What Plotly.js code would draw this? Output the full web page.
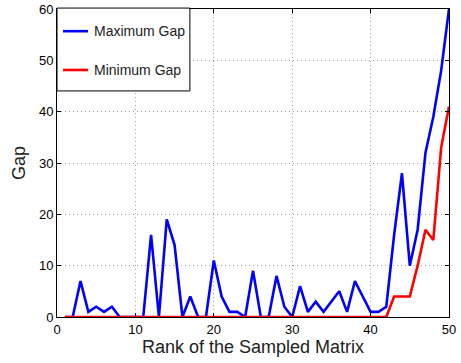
<!DOCTYPE html>
<html>
<head>
<meta charset="utf-8">
<script src="https://cdn.plot.ly/plotly-3.0.1.min.js"></script>
<style>html,body{margin:0;padding:0;background:#fff;}#chart{width:461px;height:363px;}</style>
</head>
<body>
<div id="chart"></div>
<script>
const rank = [1,2,3,4,5,6,7,8,9,10,11,12,13,14,15,16,17,18,19,20,21,22,23,24,25,26,27,28,29,30,31,32,33,34,35,36,37,38,39,40,41,42,43,44,45,46,47,48,49,50];
const maxGap = [0,0,7,1,2,1,2,0,0,0,0,16,0,19,14,0,4,0,0,11,4,1,1,0,9,0,0,8,2,0,6,1,3,1,3,5,1,7,4,1,1,2,16,28,10,17,32,39,48,60];
const minGap = [0,0,0,0,0,0,0,0,0,0,0,0,0,0,0,0,0,0,0,0,0,0,0,0,0,0,0,0,0,0,0,0,0,0,0,0,0,0,0,0,0,0,4,4,4,10,17,15,33,41];
const seriesNames = ["Maximum Gap", "Minimum Gap"];
const seriesColors = ["#0000ff", "#ff0000"];
const xTitle = "Rank of the Sampled Matrix";
const yTitle = "Gap";

const font = "Liberation Sans, Arial, Helvetica, sans-serif";
const traces = [
  {x: rank, y: maxGap, type: "scatter", mode: "lines", name: seriesNames[0],
   line: {color: seriesColors[0], width: 2.6}},
  {x: rank, y: minGap, type: "scatter", mode: "lines", name: seriesNames[1],
   line: {color: seriesColors[1], width: 2.6}}
];
const axisCommon = {
  showline: true, linecolor: "#000", linewidth: 1, mirror: "ticks",
  ticks: "inside", ticklen: 4, tickcolor: "#000", tickwidth: 1,
  showgrid: true, gridcolor: "#a0a0a0", griddash: "1px,3px", gridwidth: 1,
  zeroline: false, tickfont: {family: font, size: 13, color: "#000"}
};
// manual legend box (paper coordinates)
const legendRows = [0.928, 0.802];
const shapes = [
  {type: "rect", xref: "paper", yref: "paper", x0: 0, x1: 0.339, y0: 0.734, y1: 1.003,
   fillcolor: "#fff", line: {color: "#000", width: 1}, layer: "above"}
];
const annotations = [];
seriesNames.forEach((n, i) => {
  shapes.push({type: "line", xref: "paper", yref: "paper", x0: 0.0153, x1: 0.079,
    y0: legendRows[i], y1: legendRows[i], line: {color: seriesColors[i], width: 2.6}, layer: "above"});
  annotations.push({xref: "paper", yref: "paper", x: 0.0885, y: legendRows[i], xanchor: "left",
    yanchor: "middle", text: n, showarrow: false, font: {family: font, size: 14, color: "#222"}});
});
const layout = {
  width: 461, height: 363,
  margin: {l: 57, r: 12, t: 9, b: 46},
  paper_bgcolor: "#fff", plot_bgcolor: "#fff",
  font: {family: font, color: "#000"},
  showlegend: false,
  shapes: shapes, annotations: annotations,
  xaxis: Object.assign({}, axisCommon, {range: [0, 50], tickvals: [0,10,20,30,40,50],
    title: {text: xTitle, font: {family: font, size: 18, color: "#222"}, standoff: 2}}),
  yaxis: Object.assign({}, axisCommon, {range: [0, 60], tickvals: [0,10,20,30,40,50,60],
    title: {text: yTitle, font: {family: font, size: 18, color: "#222"}, standoff: 8}})
};
Plotly.newPlot("chart", traces, layout, {displayModeBar: false, staticPlot: true});
</script>
</body>
</html>
